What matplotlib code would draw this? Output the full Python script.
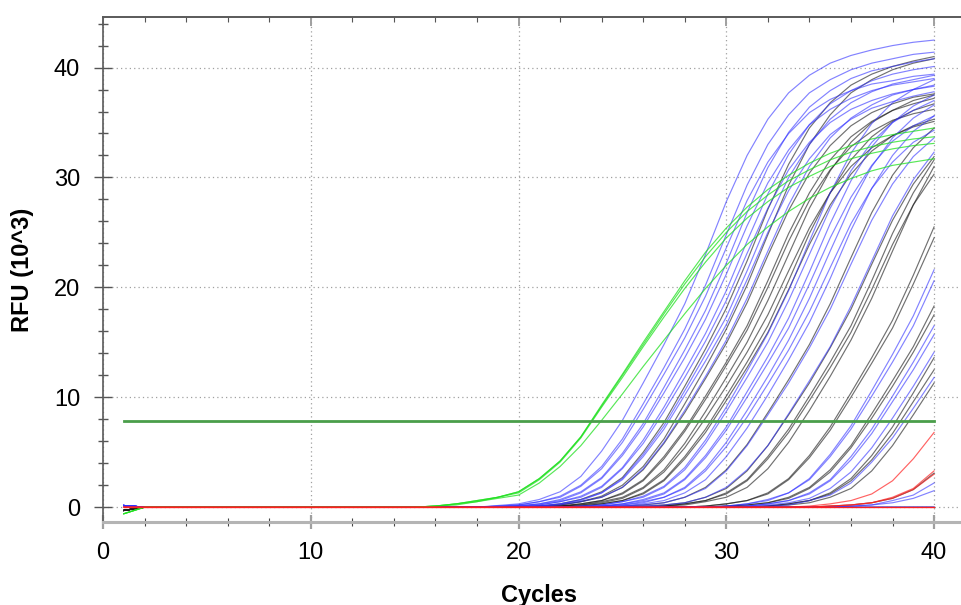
import matplotlib
matplotlib.use("Agg")
import matplotlib.pyplot as plt

plt.rcParams['font.family'] = ['Liberation Sans', 'DejaVu Sans']

# --- DATA (RFU x 10^3), every tail ends at cycle 40, earlier cycles are flat at 0 ---
cycles = list(range(1, 41))
threshold = 7.88

green_first = -0.6
green_tails = [
    [0.1, 0.3, 0.6, 0.9, 1.4, 2.6, 4.2, 6.4, 9.3, 12.1, 15.0, 17.8, 20.6, 23.2, 25.4, 27.3, 28.9, 30.2, 31.3, 32.2, 32.9, 33.5, 33.9, 34.2, 34.5],
    [0.1, 0.3, 0.6, 0.9, 1.4, 2.6, 4.2, 6.4, 9.2, 12.0, 14.8, 17.6, 20.3, 22.8, 25.0, 26.9, 28.4, 29.7, 30.7, 31.6, 32.3, 32.8, 33.2, 33.5, 33.7],
    [0.1, 0.3, 0.5, 0.9, 1.3, 2.5, 4.1, 6.3, 9.1, 11.8, 14.6, 17.3, 19.9, 22.3, 24.5, 26.3, 27.8, 29.1, 30.1, 31.0, 31.7, 32.2, 32.6, 32.9, 33.1],
    [0.1, 0.2, 0.5, 0.8, 1.1, 2.2, 3.7, 5.6, 7.9, 10.3, 12.8, 15.2, 17.6, 19.9, 22.0, 23.9, 25.5, 26.9, 28.1, 29.1, 29.9, 30.6, 31.1, 31.4, 31.7],
]

blue_first = 0.15
blue_tails = [
    [0.15, 0.3, 0.7, 1.4, 2.8, 5.1, 7.9, 11.3, 14.8, 18.5, 23.0, 27.8, 32.0, 35.3, 37.7, 39.3, 40.4, 41.1, 41.6, 42.0, 42.3, 42.5],
    [0.1, 0.2, 0.5, 1.0, 2.0, 3.7, 6.2, 9.4, 12.7, 16.2, 20.2, 24.8, 29.3, 33.0, 35.7, 37.7, 38.9, 39.8, 40.4, 40.8, 41.2, 41.4],
    [0.1, 0.2, 0.5, 0.9, 1.9, 3.5, 5.9, 8.9, 12.1, 15.4, 19.2, 23.6, 27.9, 31.4, 34.0, 35.9, 37.1, 37.9, 38.5, 38.8, 39.2, 39.4],
    [0.15, 0.3, 0.7, 1.4, 2.7, 4.9, 7.6, 10.9, 14.3, 17.9, 22.2, 26.8, 30.9, 34.1, 36.4, 37.9, 39.0, 39.7, 40.1, 40.5, 40.8],
    [0.1, 0.3, 0.6, 1.3, 2.6, 4.7, 7.3, 10.4, 13.6, 17.1, 21.2, 25.6, 29.5, 32.5, 34.8, 36.2, 37.2, 37.9, 38.4, 38.7, 39.0],
    [0.1, 0.2, 0.5, 1.0, 1.9, 3.6, 6.1, 9.1, 12.4, 15.8, 19.7, 24.2, 28.5, 32.1, 34.8, 36.7, 37.9, 38.8, 39.4, 39.8, 40.1],
    [0.1, 0.2, 0.5, 0.9, 1.8, 3.5, 5.8, 8.7, 11.8, 15.1, 18.8, 23.1, 27.2, 30.7, 33.2, 35.0, 36.2, 37.0, 37.6, 38.0, 38.3],
    [0.1, 0.3, 0.7, 1.3, 2.6, 4.8, 7.4, 10.6, 13.9, 17.3, 21.5, 26.0, 30.0, 33.0, 35.3, 36.8, 37.8, 38.5, 38.9, 39.3],
    [0.1, 0.3, 0.6, 1.3, 2.5, 4.6, 7.1, 10.2, 13.3, 16.6, 20.7, 25.0, 28.8, 31.7, 33.9, 35.3, 36.3, 36.9, 37.4, 37.8],
    [0.1, 0.2, 0.5, 0.9, 1.8, 3.5, 5.9, 8.8, 11.9, 15.2, 19.0, 23.3, 27.5, 31.0, 33.6, 35.4, 36.6, 37.5, 38.0, 38.4],
    [0.1, 0.2, 0.5, 1.0, 1.9, 3.6, 6.1, 9.1, 12.4, 15.8, 19.7, 24.2, 28.6, 32.2, 34.9, 36.8, 38.0, 38.9],
    [0.1, 0.2, 0.5, 0.9, 1.8, 3.4, 5.8, 8.7, 11.8, 15.0, 18.8, 23.0, 27.2, 30.6, 33.2, 35.0, 36.1, 37.0],
    [0.1, 0.3, 0.7, 1.3, 2.6, 4.7, 7.3, 10.5, 13.7, 17.2, 21.4, 25.8, 29.7, 32.8, 35.0, 36.5, 37.5],
    [0.1, 0.3, 0.6, 1.2, 2.5, 4.5, 7.0, 10.0, 13.1, 16.3, 20.3, 24.5, 28.2, 31.1, 33.3, 34.7, 35.6],
    [0.1, 0.2, 0.5, 0.9, 1.8, 3.5, 5.9, 8.8, 11.9, 15.2, 19.0, 23.3, 27.5, 31.0, 33.6, 35.4, 36.6],
    [0.1, 0.2, 0.4, 0.9, 1.7, 3.3, 5.5, 8.2, 11.2, 14.3, 17.8, 21.8, 25.8, 29.0, 31.4, 33.2, 34.3],
    [0.1, 0.3, 0.6, 1.3, 2.5, 4.6, 7.2, 10.2, 13.4, 16.8, 20.8, 25.2, 29.0, 32.0, 34.2, 35.6],
    [0.1, 0.2, 0.4, 0.9, 1.7, 3.3, 5.6, 8.4, 11.3, 14.5, 18.0, 22.1, 26.1, 29.4, 31.9, 33.6],
    [0.1, 0.2, 0.4, 0.9, 1.8, 3.4, 5.6, 8.5, 11.5, 14.6, 18.3, 22.4, 26.5, 29.8, 32.3],
    [0.1, 0.3, 0.7, 1.3, 2.6, 4.8, 7.4, 10.6, 13.9, 17.4, 21.6],
    [0.1, 0.3, 0.6, 1.3, 2.5, 4.6, 7.1, 10.1, 13.2, 16.5, 20.6],
    [0.1, 0.3, 0.6, 1.3, 2.5, 4.6, 7.1, 10.1, 13.2, 16.5],
    [0.1, 0.3, 0.6, 1.2, 2.4, 4.3, 6.7, 9.6, 12.5, 15.7],
    [0.1, 0.2, 0.4, 0.8, 1.7, 3.2, 5.4, 8.1, 11.0, 14.1],
    [0.1, 0.2, 0.6, 1.1, 2.2, 4.1, 6.3, 9.0, 11.8],
    [0.1, 0.2, 0.6, 1.1, 2.2],
    [0.1, 0.2, 0.4, 0.8, 1.5],
    [],
    [],
]

black_first = -0.3
black_tails = [
    [0.1, 0.3, 0.7, 1.4, 2.7, 5.0, 7.7, 11.0, 14.4, 18.1, 22.4, 27.1, 31.2, 34.5, 36.8, 38.4, 39.4, 40.1, 40.6, 41.0],
    [0.1, 0.2, 0.5, 1.0, 2.0, 3.7, 6.2, 9.4, 12.7, 16.2, 20.2, 24.8, 29.3, 33.0, 35.7, 37.7, 38.9, 39.8, 40.4, 40.8],
    [0.1, 0.2, 0.5, 0.9, 1.8, 3.4, 5.8, 8.6, 11.7, 14.9, 18.6, 22.9, 27.0, 30.4, 32.9, 34.7, 35.9, 36.7, 37.3, 37.6],
    [0.1, 0.3, 0.6, 1.3, 2.5, 4.6, 7.1, 10.1, 13.2, 16.5, 20.6, 24.9, 28.6, 31.6, 33.7, 35.1, 36.1, 36.7, 37.2],
    [0.1, 0.3, 0.6, 1.2, 2.4, 4.4, 6.9, 9.8, 12.9, 16.1, 20.0, 24.2, 27.9, 30.7, 32.8, 34.2, 35.2, 35.8, 36.2],
    [0.1, 0.2, 0.5, 0.9, 1.8, 3.4, 5.8, 8.7, 11.8, 15.0, 18.8, 23.0, 27.2, 30.6, 33.2, 35.0, 36.1, 37.0, 37.5],
    [0.1, 0.2, 0.4, 0.8, 1.7, 3.2, 5.4, 8.1, 11.0, 14.1, 17.5, 21.5, 25.4, 28.6, 31.0, 32.7, 33.8, 34.6, 35.1],
    [0.1, 0.3, 0.6, 1.3, 2.5, 4.6, 7.1, 10.1, 13.2, 16.5, 20.6, 24.9, 28.6, 31.6, 33.7, 35.1, 36.1, 36.7],
    [0.1, 0.3, 0.6, 1.2, 2.4, 4.4, 6.8, 9.7, 12.7, 15.9, 19.8, 23.9, 27.5, 30.3, 32.4, 33.8, 34.7, 35.3],
    [0.1, 0.2, 0.4, 0.9, 1.8, 3.4, 5.7, 8.6, 11.6, 14.8, 18.5, 22.7, 26.8, 30.2, 32.7, 34.5],
    [0.1, 0.2, 0.4, 0.9, 1.7, 3.3, 5.6, 8.4, 11.3, 14.5, 18.0, 22.1, 26.1, 29.4, 31.9],
    [0.1, 0.3, 0.6, 1.2, 2.4, 4.4, 6.8, 9.7, 12.7, 15.9, 19.8, 23.9, 27.5, 30.3],
    [0.1, 0.3, 0.6, 1.3, 2.5, 4.6, 7.1, 10.1, 13.2, 16.5, 20.6, 24.9, 28.6, 31.6],
    [0.1, 0.2, 0.5, 0.9, 1.8, 3.5, 5.9, 8.8, 11.9, 15.2, 19.0, 23.3, 27.5, 31.0],
    [0.1, 0.3, 0.6, 1.3, 2.6, 4.7, 7.3, 10.4, 13.6, 17.0, 21.1, 25.5],
    [0.1, 0.3, 0.6, 1.2, 2.5, 4.5, 7.0, 10.0, 13.1, 16.3, 20.3, 24.5],
    [0.1, 0.2, 0.4, 0.9, 1.8, 3.4, 5.6, 8.5, 11.5, 14.6, 18.3],
    [0.1, 0.2, 0.4, 0.8, 1.7, 3.2, 5.4, 8.1, 11.0, 14.1, 17.5],
    [0.1, 0.3, 0.6, 1.3, 2.6, 4.7, 7.3, 10.4, 13.6],
    [0.1, 0.3, 0.6, 1.2, 2.4, 4.3, 6.7, 9.6, 12.5],
    [0.1, 0.2, 0.4, 0.9, 1.7, 3.3, 5.6, 8.4, 11.3],
    [0.1, 0.2, 0.4, 0.8, 1.6, 3.1],
    [],
]

red_first = 0.0
red_tails = [
    [0.1, 0.3, 0.6, 1.2, 2.4, 4.4, 6.8],
    [0.1, 0.2, 0.4, 0.9, 1.7, 3.3],
    [0.1, 0.2, 0.4, 0.8, 1.6, 3.0],
    [],
    [],
    [],
]


def full_curve(first, tail):
    y = [0.0] * len(cycles)
    y[0] = first
    if tail:
        y[len(cycles) - len(tail):] = tail
    return y


fig = plt.figure(figsize=(9.62, 6.05), dpi=100)
ax = fig.add_axes([103 / 962, 83 / 605, 872 / 962, 505 / 605])

groups = [
    (black_first, black_tails, '#1a1a1a', 0.62),
    (blue_first, blue_tails, '#3030ff', 0.6),
    (green_first, green_tails, '#20e020', 0.75),
    (red_first, red_tails, '#ff2020', 0.7),
]
for first, tails, color, alpha in groups:
    for tail in tails:
        ax.plot(cycles, full_curve(first, tail), color=color, alpha=alpha, linewidth=0.85)

# threshold line
ax.plot([cycles[0], cycles[-1]], [threshold, threshold], color='#4a9e4a', linewidth=2.0)

ax.set_xlim(0, 41.97)
ax.set_ylim(-1.35, 44.6)
ax.set_xticks([0, 10, 20, 30, 40])
ax.set_xticks(range(0, 42, 2), minor=True)
ax.set_yticks([0, 10, 20, 30, 40])
ax.set_yticks(range(0, 45, 2), minor=True)

ax.grid(True, which='major', color='#a0a0a0', linestyle=(0, (1, 2.5)), linewidth=0.9)

for side in ['left', 'top']:
    ax.spines[side].set_color('#5a5a5a')
    ax.spines[side].set_linewidth(1.2)
ax.spines['bottom'].set_color('#b4b4b4')
ax.spines['bottom'].set_linewidth(2.2)
ax.spines['right'].set_visible(False)

ax.tick_params(axis='y', which='major', direction='inout', length=13, width=1, color='#555555', labelsize=17, pad=10)
ax.tick_params(axis='y', which='minor', direction='inout', length=6.5, width=1, color='#555555')
ax.tick_params(axis='x', which='major', direction='inout', length=9.5, width=1.6, color='#a0a0a0', labelsize=17, pad=10)
ax.tick_params(axis='x', which='minor', direction='inout', length=6, width=0.8, color='#444444')

top = ax.secondary_xaxis('top')
top.set_xticks([0, 10, 20, 30, 40])
top.set_xticks(range(0, 42, 2), minor=True)
top.tick_params(which='major', direction='in', length=6.5, width=1.4, color='#a0a0a0', labeltop=False)
top.tick_params(which='minor', direction='in', length=3.5, width=0.8, color='#555555')
top.spines['top'].set_color('#5a5a5a')
top.spines['top'].set_linewidth(1.2)

ax.set_xlabel('Cycles', fontsize=17, fontweight='bold', labelpad=14)
ax.set_ylabel('RFU (10^3)', fontsize=17, fontweight='bold', labelpad=14)

fig.savefig('out.png', dpi=100)
